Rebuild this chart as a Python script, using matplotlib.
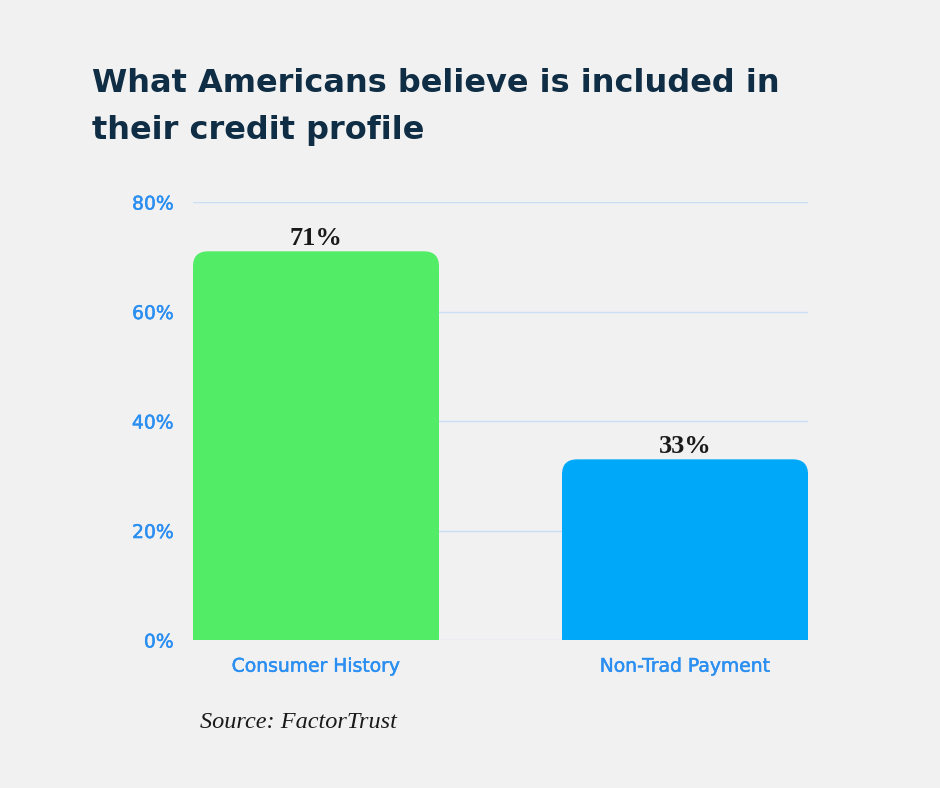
import matplotlib
matplotlib.use("Agg")
import numpy as np
from matplotlib import pyplot as plt
from matplotlib import patheffects as pe
from matplotlib.patches import FancyBboxPatch

# chart data
categories = ["Consumer History", "Non-Trad Payment"]
values = [71, 33]
bar_colors = ["#52ec66", "#00a8fa"]
yticks = [0, 20, 40, 60, 80]
ytick_labels = ["0%", "20%", "40%", "60%", "80%"]

bg = "#f1f1f1"
tick_blue = "#2b8ff2"
grid_blue = "#c9dff6"
navy = "#0f2d44"

fig = plt.figure(figsize=(9.4, 7.88), dpi=100, facecolor=bg)
ax = fig.add_axes([0.2053, 0.1878, 0.6543, 0.5558], facecolor=bg)

w = 2 / 3
x = np.arange(len(categories))
ax.set_xlim(-w / 2, len(categories) - 1 + w / 2)
ax.set_ylim(0, 80)

# corner radius in data units (about 15 px)
rx = 0.041
ry = 2.75

for xi, v, c in zip(x, values, bar_colors):
    # flat lower part + rounded cap
    ax.bar(xi, v - ry, width=w, color=c, zorder=2, linewidth=0)
    cap = FancyBboxPatch((xi - w / 2, v - 2 * ry), w, 2 * ry,
                         boxstyle="round,pad=0,rounding_size=%f" % rx,
                         mutation_aspect=ry / rx, facecolor=c,
                         edgecolor="none", zorder=2)
    ax.add_patch(cap)
    ax.text(xi, v + 0.3, "%d%%" % v, ha="center", va="bottom",
            fontsize=19, fontweight="bold", family="Liberation Serif",
            color="#1a1a1a", zorder=3)

ax.set_yticks(yticks)
ax.set_yticklabels(ytick_labels)
ax.set_xticks(x)
ax.set_xticklabels(categories)
for lab in ax.get_yticklabels() + ax.get_xticklabels():
    lab.set_color(tick_blue)
    lab.set_fontsize(13.5)
    lab.set_family("DejaVu Sans")
    lab.set_path_effects([pe.withStroke(linewidth=0.35, foreground=tick_blue)])
ax.tick_params(axis="both", length=0)
ax.tick_params(axis="y", pad=14)
ax.tick_params(axis="x", pad=12)

ax.grid(axis="y", color=grid_blue, linewidth=1, zorder=0)
for s in ax.spines.values():
    s.set_visible(False)

fig.text(92 / 940, 1 - 68 / 788,
         "What Americans believe is included in\ntheir credit profile",
         ha="left", va="top", fontsize=23, color=navy, fontweight="bold",
         family="DejaVu Sans", linespacing=1.68)

fig.text(200 / 940, 1 - 722 / 788, "Source: FactorTrust", ha="left",
         va="center", fontsize=17.5, style="italic", family="Liberation Serif",
         color="#1a1a1a")

fig.savefig("out.png", dpi=100, facecolor=bg)
